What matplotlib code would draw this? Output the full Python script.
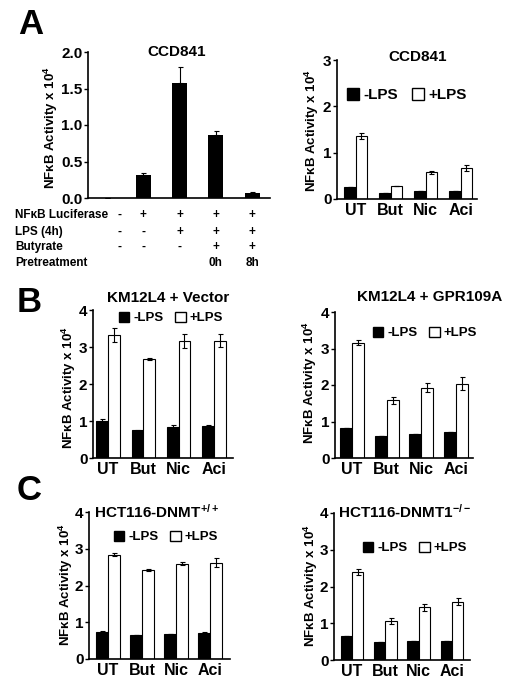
import matplotlib
matplotlib.use('Agg')
import matplotlib.pyplot as plt
from matplotlib.patches import Patch
from matplotlib.ticker import FormatStrFormatter
import matplotlib.transforms as mtransforms
import numpy as np

plt.rcParams['font.family'] = ['Liberation Sans', 'DejaVu Sans']
plt.rcParams['font.weight'] = 'bold'
plt.rcParams['mathtext.fontset'] = 'custom'
plt.rcParams['mathtext.rm'] = 'Liberation Sans:bold'
plt.rcParams['mathtext.it'] = 'Liberation Sans:bold'
plt.rcParams['mathtext.bf'] = 'Liberation Sans:bold'

W, H = 523, 694

# panel A (left): luciferase time course
a_vals = [0.0, 0.32, 1.57, 0.86, 0.07]
a_errs = [0.0, 0.02, 0.22, 0.06, 0.01]
table_rows = ['NF\u03baB Luciferase', 'LPS (4h)', 'Butyrate', 'Pretreatment']
table_marks = [['-', '+', '+', '+', '+'],
               ['-', '-', '+', '+', '+'],
               ['-', '-', '-', '+', '+'],
               ['', '', '', '0h', '8h']]

groups = ['UT', 'But', 'Nic', 'Aci']

ccd_minus = [0.25, 0.12, 0.17, 0.18]
ccd_minus_err = [0.0, 0.0, 0.0, 0.0]
ccd_plus = [1.36, 0.28, 0.58, 0.67]
ccd_plus_err = [0.06, 0.01, 0.03, 0.06]

vec_minus = [0.99, 0.75, 0.84, 0.87]
vec_minus_err = [0.07, 0.02, 0.05, 0.01]
vec_plus = [3.32, 2.67, 3.15, 3.17]
vec_plus_err = [0.19, 0.03, 0.19, 0.17]

gpr_minus = [0.82, 0.61, 0.66, 0.70]
gpr_minus_err = [0.0, 0.0, 0.0, 0.0]
gpr_plus = [3.16, 1.58, 1.93, 2.04]
gpr_plus_err = [0.07, 0.09, 0.12, 0.17]

wt_minus = [0.73, 0.66, 0.69, 0.71]
wt_minus_err = [0.02, 0.0, 0.0, 0.03]
wt_plus = [2.84, 2.43, 2.59, 2.62]
wt_plus_err = [0.04, 0.03, 0.04, 0.13]

ko_minus = [0.65, 0.50, 0.52, 0.51]
ko_minus_err = [0.0, 0.0, 0.0, 0.0]
ko_plus = [2.40, 1.07, 1.43, 1.59]
ko_plus_err = [0.08, 0.08, 0.09, 0.10]

YLABEL = 'NF\u03baB Activity x 10$^{4}$'

fig = plt.figure(figsize=(W / 100, H / 100), dpi=100)
fig.patch.set_facecolor('white')


def make_axes(x0, x1, y_top, y_bot):
    return fig.add_axes([x0 / W, 1 - y_bot / H, (x1 - x0) / W, (y_bot - y_top) / H])


def ftext(x, y, s, **kw):
    kw.setdefault('ha', 'center')
    kw.setdefault('va', 'center')
    kw.setdefault('fontweight', 'bold')
    return fig.text(x / W, 1 - y / H, s, **kw)


def style_axes(ax, ymax, xlim):
    for side in ['top', 'right']:
        ax.spines[side].set_visible(False)
    for side in ['left', 'bottom']:
        ax.spines[side].set_linewidth(1.2)
    ax.set_ylim(0, ymax)
    ax.set_xlim(*xlim)
    ax.tick_params(axis='y', direction='out', length=3, width=1, labelsize=11, pad=1)
    ax.tick_params(axis='x', length=0, labelsize=11.5, pad=3)
    for lab in ax.get_xticklabels() + ax.get_yticklabels():
        lab.set_fontweight('bold')


def grouped(ax, minus, minus_err, plus, plus_err, width, ymax, xlim):
    x = np.arange(len(groups))
    ax.bar(x - width / 2, minus, width, color='black', edgecolor='black', linewidth=0.8)
    ax.bar(x + width / 2, plus, width, color='white', edgecolor='black', linewidth=0.8)
    ax.errorbar(x - width / 2, minus, yerr=minus_err, fmt='none', ecolor='black',
                elinewidth=0.8, capsize=1.8, capthick=0.8)
    ax.errorbar(x + width / 2, plus, yerr=plus_err, fmt='none', ecolor='black',
                elinewidth=0.8, capsize=1.8, capthick=0.8)
    ax.set_xticks(x)
    ax.set_xticklabels(groups)
    ax.set_yticks(np.arange(0, ymax + 0.5, 1))
    style_axes(ax, ymax, xlim)


def legend_at(ax, x, y, size):
    handles = [Patch(facecolor='black', edgecolor='black'),
               Patch(facecolor='white', edgecolor='black', linewidth=1)]
    ax.legend(handles, ['-LPS', '+LPS'], loc='center', ncol=2, frameon=False,
              bbox_to_anchor=(x / W, 1 - y / H), bbox_transform=fig.transFigure,
              prop={'size': size, 'weight': 'bold'}, handlelength=0.8, handleheight=0.8,
              handletextpad=0.3, columnspacing=0.9, borderpad=0)


# ---- A left
ax = make_axes(88, 270, 52, 198)
xa = np.arange(len(a_vals))
ax.bar(xa, a_vals, 0.41, color='black')
ax.errorbar(xa, a_vals, yerr=[np.zeros(len(a_errs)), a_errs], fmt='none', ecolor='black',
            elinewidth=0.8, capsize=1.8, capthick=0.8)
ax.set_xticks([])
ax.set_yticks([0, 0.5, 1.0, 1.5, 2.0])
ax.yaxis.set_major_formatter(FormatStrFormatter('%.1f'))
style_axes(ax, 2.0, (-0.52, 4.49))
ftext(177, 52, 'CCD841', fontsize=11)
ftext(51, 128, YLABEL, rotation=90, fontsize=9.5)

trans = mtransforms.blended_transform_factory(ax.transData, fig.transFigure)
col_x = [0.35, 1, 2, 3, 4]
row_y = [215, 232, 247, 263]
for r, label in enumerate(table_rows):
    ftext(15, row_y[r], label, ha='left', fontsize=8.5)
    for c, mark in enumerate(table_marks[r]):
        ax.text(col_x[c], 1 - row_y[r] / H, mark, transform=trans, ha='center', va='center',
                fontsize=8.5, fontweight='bold')

# ---- A right
ax = make_axes(337, 477, 60, 199)
grouped(ax, ccd_minus, ccd_minus_err, ccd_plus, ccd_plus_err, 0.32, 3, (-0.53, 3.47))
ftext(418, 57, 'CCD841', fontsize=11)
legend_at(ax, 407, 95, 11)
ftext(312, 131, YLABEL, rotation=90, fontsize=9.5)

# ---- B left
ax = make_axes(93, 233, 310, 458)
grouped(ax, vec_minus, vec_minus_err, vec_plus, vec_plus_err, 0.33, 4, (-0.42, 3.54))
ftext(168, 298, 'KM12L4 + Vector', fontsize=11)
legend_at(ax, 171, 318, 9.5)
ftext(69, 388, YLABEL, rotation=90, fontsize=9.5)

# ---- B right
ax = make_axes(335, 473, 312, 458)
grouped(ax, gpr_minus, gpr_minus_err, gpr_plus, gpr_plus_err, 0.35, 4, (-0.49, 3.49))
ftext(430, 297, 'KM12L4 + GPR109A', fontsize=11)
legend_at(ax, 425, 333, 9.5)
ftext(310, 383, YLABEL, rotation=90, fontsize=9.5)

# ---- C left
ax = make_axes(89, 230, 512, 659)
grouped(ax, wt_minus, wt_minus_err, wt_plus, wt_plus_err, 0.34, 4, (-0.56, 3.59))
ftext(157, 512, 'HCT116-DNMT$^{+/+}$', fontsize=11)
legend_at(ax, 166, 537, 9.5)
ftext(66, 585, YLABEL, rotation=90, fontsize=9.5)

# ---- C right
ax = make_axes(334, 470, 513, 660)
grouped(ax, ko_minus, ko_minus_err, ko_plus, ko_plus_err, 0.34, 4, (-0.54, 3.54))
ftext(405, 512, 'HCT116-DNMT1$^{-/-}$', fontsize=11)
legend_at(ax, 415, 548, 9.5)
ftext(311, 586, YLABEL, rotation=90, fontsize=9.5)

# panel letters
ftext(31, 25, 'A', fontsize=25)
ftext(29, 302, 'B', fontsize=25)
ftext(29, 490, 'C', fontsize=25)

fig.savefig('out.png', dpi=100, facecolor='white')
